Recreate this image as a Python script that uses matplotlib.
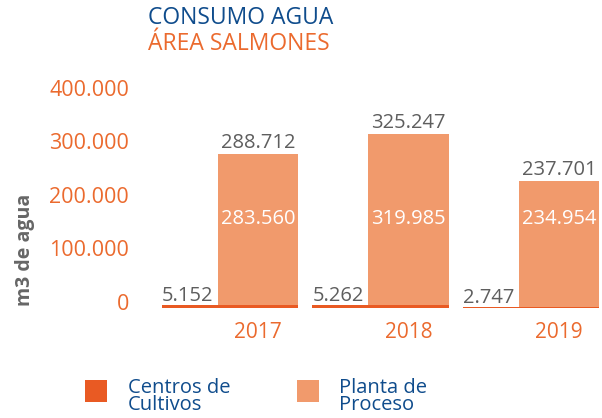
import matplotlib
matplotlib.use("Agg")
import matplotlib.pyplot as plt
import matplotlib.transforms as mtransforms
from matplotlib.patches import Rectangle

# Water consumption, salmon area (m3)
years = ["2017", "2018", "2019"]
centros = [5152, 5262, 2747]          # Centros de Cultivos
planta = [283560, 319985, 234954]     # Planta de Proceso
totals = [288712, 325247, 237701]
yticks = [0, 100000, 200000, 300000, 400000]
ytick_labels = ["0", "100.000", "200.000", "300.000", "400.000"]
legend_labels = ["Centros de\nCultivos", "Planta de\nProceso"]

DARK = "#E95A23"
LIGHT = "#F19A6C"
BLUE = "#0F4C8C"
ORANGE_TXT = "#EB6A2E"
GRAY = "#5E5E5E"

plt.rcParams["font.family"] = ["Open Sans", "DejaVu Sans"]

W, H = 602, 418
fig = plt.figure(figsize=(W / 100, H / 100), dpi=100)
ax = fig.add_axes([150 / W, 110 / H, 452 / W, 248 / H])

def fmt(v):
    return f"{v:,}".replace(",", ".")

x = list(range(len(years)))
light_w = 0.533
dark_left = -0.64
dark_w = 0.64 + light_w / 2

# Wide dark base bars with the narrower light bars stacked on their right part
ax.bar([i + dark_left for i in x], centros, width=dark_w, align="edge",
       color=DARK, linewidth=0, zorder=2)
ax.bar(x, planta, width=light_w, bottom=centros, color=LIGHT,
       linewidth=0, zorder=3)

ax.set_xlim(-0.72, 2.287)
ax.set_ylim(0, 463500)
for s in ax.spines.values():
    s.set_visible(False)
ax.set_xticks([])
ax.set_yticks(yticks)
ax.set_yticklabels(ytick_labels, fontsize=15.5, color=ORANGE_TXT)
ax.tick_params(axis="y", length=0, pad=15)
lift = mtransforms.ScaledTranslation(0, 6 / 100, fig.dpi_scale_trans)
for lbl in ax.get_yticklabels():
    lbl.set_transform(lbl.get_transform() + lift)

up6 = mtransforms.offset_copy(ax.transData, fig=fig, x=0, y=6 * 0.72, units="points")
up4 = mtransforms.offset_copy(ax.transData, fig=fig, x=0, y=4 * 0.72, units="points")
blend = mtransforms.blended_transform_factory(ax.transData, ax.transAxes)

for i in x:
    top = centros[i] + planta[i]
    ax.text(i, top, fmt(totals[i]), transform=up6, ha="center", va="baseline",
            fontsize=14.5, color=GRAY, zorder=5)
    ax.text(i, 0.339, fmt(planta[i]), transform=blend, ha="center",
            va="baseline", fontsize=14.5, color="white", zorder=5)
    ax.text(i + dark_left, centros[i], fmt(centros[i]), transform=up4,
            ha="left", va="baseline", fontsize=14.5, color=GRAY, zorder=5)
    ax.text(i, -0.1, years[i], transform=blend, ha="center", va="center",
            fontsize=15, color=ORANGE_TXT, fontweight="normal", clip_on=False)

# Titles
fig.text(148 / W, 1 - 18 / H, "CONSUMO AGUA", color=BLUE, fontsize=16.5,
         ha="left", va="center")
fig.text(148 / W, 1 - 44 / H, "ÁREA SALMONES", color=ORANGE_TXT, fontsize=16.5,
         ha="left", va="center")

# Y-axis title
fig.text(25 / W, 1 - 250 / H, "m3 de agua", color="#666666", fontsize=14,
         fontweight="bold", rotation=90, ha="center", va="center")

# Legend
for (x0, col, tx, label) in [(85, DARK, 128, legend_labels[0]),
                             (297, LIGHT, 339, legend_labels[1])]:
    fig.patches.append(Rectangle((x0 / W, 1 - 402 / H), 22 / W, 22 / H,
                                 transform=fig.transFigure, color=col,
                                 linewidth=0))
    fig.text(tx / W, 1 - 378 / H, label, color=BLUE, fontsize=14.5,
             ha="left", va="top", linespacing=0.8)

fig.savefig("out.png", dpi=100)
